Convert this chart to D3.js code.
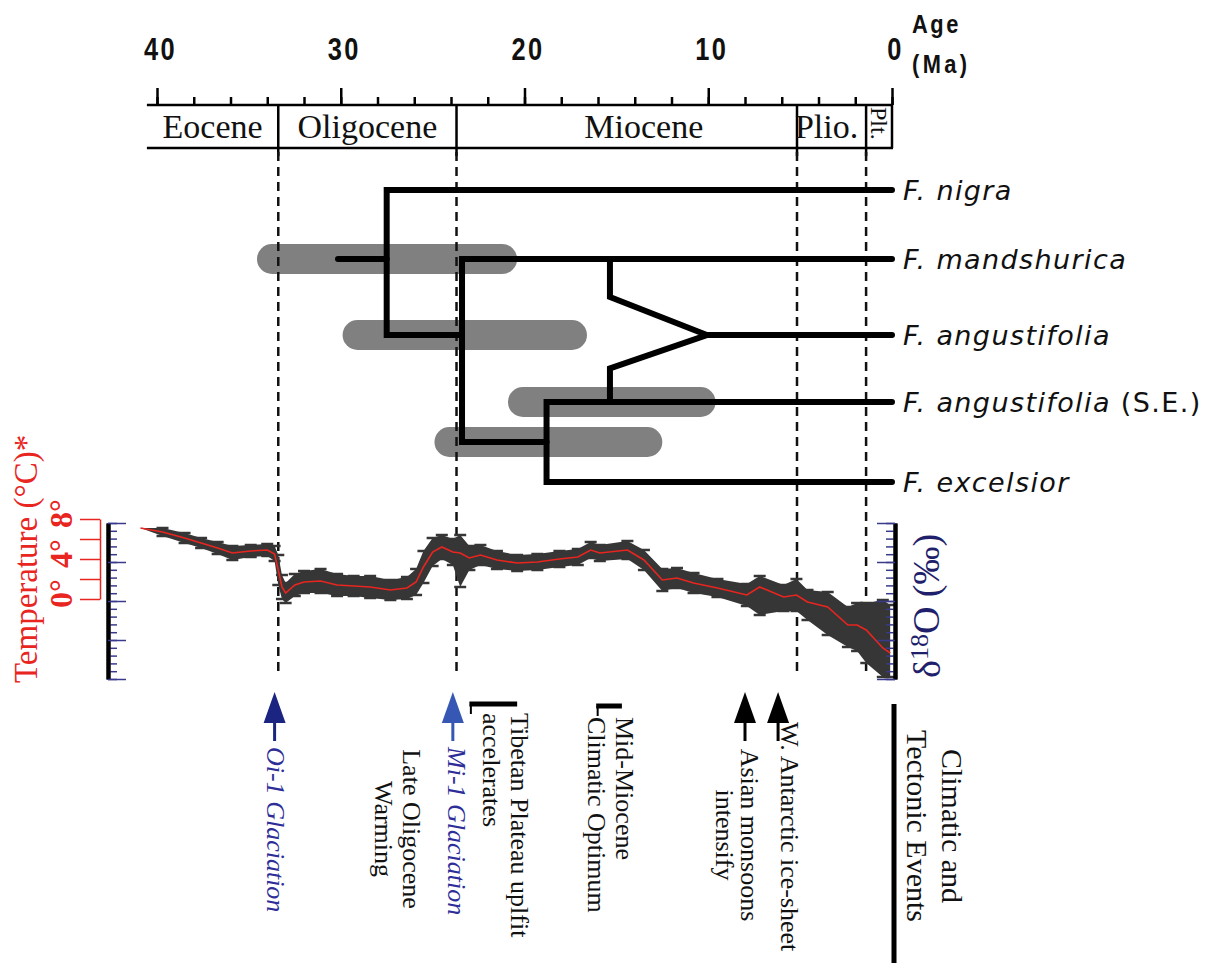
<!DOCTYPE html>
<html>
<head>
<meta charset="utf-8">
<script src="https://cdn.jsdelivr.net/npm/d3@7"></script>
<style>
  body { margin: 0; background: #fff; }
</style>
</head>
<body>
<svg id="chart"></svg>
<script>
// ---- data ----
const ageTicks = [40, 30, 20, 10, 0];
const minorAgeTicks = d3.range(0, 41, 2);
const epochs = ["Eocene", "Oligocene", "Miocene", "Plio.", "Plt."];
const epochStart = [40.55, 33.4, 23.7, 5.17, 1.41];
const epochEnd = [33.4, 23.7, 5.17, 1.41, 0];

const species = ["F. nigra", "F. mandshurica", "F. angustifolia", "F. angustifolia", "F. excelsior"];
const speciesNote = ["", "", "", " (S.E.)", ""];

// node ages (Ma)
const stemAge = 30.15;
const rootAge = 27.5;
const nodeAAge = 23.4;
const nodeBAge = 18.8;
const hybridAge = 15.35;
const hybridJoinAge = 10.07;

// node age intervals (grey bars)
const ciMax = [34.56, 29.9, 20.9, 24.9];
const ciMin = [20.4, 16.6, 9.6, 12.5];
const ciRow = [1, 2, 3, 3.5];

// temperature record (deg C): smoothed curve and scatter envelope
const curveAge = [40.9, 39.7, 38.5, 37.6, 36.7, 35.9, 34.9, 34.0, 33.6, 33.4, 33.2, 33.0,
  32.5, 32.0, 31.1, 30.2, 29.3, 28.4, 27.3, 26.4, 25.9, 25.5, 25.0, 24.5, 23.9, 23.5,
  23.0, 22.4, 21.5, 20.4, 19.3, 18.1, 17.1, 16.4, 15.9, 14.4, 13.5, 12.5, 11.7, 10.8,
  9.5, 7.9, 7.2, 5.9, 5.2, 4.6, 3.5, 2.4, 1.9, 1.4, 0.5, 0.1];
const curveTemp = [7.1, 6.7, 6.1, 5.6, 5.1, 4.6, 4.8, 4.9, 4.5, 2.9, 1.2, 0.6,
  1.4, 1.7, 1.8, 1.4, 1.3, 1.2, 0.9, 1.1, 1.7, 3.2, 4.7, 5.2, 4.7, 4.6,
  4.1, 4.4, 3.9, 3.6, 3.7, 4.0, 4.2, 4.9, 4.6, 4.9, 3.9, 1.9, 2.1, 1.6,
  1.1, 0.4, 1.2, 0.2, 0.4, -0.3, -0.8, -2.6, -2.6, -3.1, -4.9, -5.4];
const cloudHigh = [7.1, 7.1, 6.6, 6.1, 5.7, 5.3, 5.4, 5.5, 5.3, 4.4, 2.4, 1.6,
  2.5, 2.8, 3.0, 2.5, 2.3, 2.3, 1.9, 2.2, 3.0, 4.8, 6.1, 6.4, 6.0, 6.4,
  5.3, 5.4, 4.8, 4.4, 4.5, 4.8, 5.0, 5.7, 5.4, 5.8, 4.9, 3.0, 3.1, 2.6,
  2.0, 1.5, 2.3, 1.4, 2.0, 0.9, 0.7, -0.8, -0.4, -0.4, -0.1, -0.6];
const cloudLow = [7.1, 6.3, 5.6, 5.1, 4.5, 3.9, 4.2, 4.3, 3.8, 1.4, 0.0, -0.4,
  0.3, 0.6, 0.6, 0.3, 0.3, 0.1, -0.1, 0.0, 0.4, 1.6, 3.3, 4.0, 3.4, 1.2,
  2.9, 3.4, 3.0, 2.8, 2.9, 3.2, 3.4, 4.1, 3.8, 4.0, 2.9, 0.8, 1.1, 0.6,
  0.2, -0.7, -1.6, -1.2, -1.2, -2.1, -3.6, -4.8, -5.2, -6.4, -7.8, -7.8];

const tempTicks = [0, 2, 4, 6, 8];
const tempLabels = [0, 4, 8];
const d18Major = [0, 1, 2, 3, 4];
const d18Minor = d3.range(0, 4.01, 0.2);

// climatic and tectonic events (Ma)
const oiAge = 33.6;
const miAge = 23.9;
const warmingAge = 26.9;
const tibetRange = [23.0, 20.4];
const mmcoRange = [16.1, 14.7];
const monsoonAge = 8.0;
const antarcticAge = 6.2;

// ---- drawing ----
const W = 1218, H = 963;
const red = "#e8251f";
const navy = "#1f1f6b";
const serif = "'Liberation Serif', 'Times New Roman', serif";
const sansBold = "'Liberation Sans', Arial, sans-serif";
const sans = "'DejaVu Sans', Verdana, sans-serif";

const svg = d3.select("#chart").attr("width", W).attr("height", H);
svg.append("rect").attr("width", W).attr("height", H).attr("fill", "#fff");

const x = d3.scaleLinear().domain([40, 0]).range([157, 892]);
const row = d3.scaleLinear().domain([0, 1, 2, 3, 4]).range([190, 259, 335, 402, 482]);
const temp = d3.scaleLinear().domain([0, 8]).range([599, 519]);
const d18 = d3.scaleLinear().domain([0, 4]).range([523, 679]);

function vLabel(parent, cx, y, lines, gap, angle, anchor) {
  const g = parent.append("g");
  lines.forEach((s, i) => {
    g.append("text")
      .attr("transform", `translate(${cx - i * gap},${y}) rotate(${angle})`)
      .attr("dy", "0.33em")
      .attr("text-anchor", anchor)
      .text(s);
  });
  return g;
}

// top age axis
const minorAxis = svg.append("g").attr("transform", "translate(0,105)")
  .call(d3.axisTop(x).tickValues(minorAgeTicks).tickSize(8).tickSizeOuter(0).tickFormat(""));
const majorAxis = svg.append("g").attr("transform", "translate(0,105)")
  .call(d3.axisTop(x).tickValues(ageTicks).tickSize(17).tickSizeOuter(0).tickPadding(28));
[minorAxis, majorAxis].forEach(g => {
  g.select(".domain").remove();
  g.selectAll("line").attr("stroke", "#000").attr("stroke-width", 2.5);
});
majorAxis.selectAll("text")
  .attr("font-family", sansBold)
  .attr("font-weight", "bold")
  .attr("font-size", 31)
  .attr("letter-spacing", 3)
  .attr("transform", "translate(3,0) scale(0.82,1)")
  .attr("fill", "#111");

// narrow bold title, squeezed horizontally
const ageTitle = svg.append("g")
  .attr("transform", "translate(912,0) scale(0.84,1)")
  .attr("font-family", sansBold)
  .attr("font-weight", "bold")
  .attr("font-size", 26)
  .attr("fill", "#111");
ageTitle.append("text").attr("y", 33).attr("letter-spacing", 3).text("Age");
ageTitle.append("text").attr("y", 73).attr("letter-spacing", 4).text("(Ma)");

// epoch band
const band = svg.append("g").attr("stroke", "#000").attr("stroke-width", 2.5);
[105, 148].forEach(yy => {
  band.append("line").attr("x1", x(epochStart[0])).attr("x2", x(0) + 1).attr("y1", yy).attr("y2", yy);
});
band.append("line").attr("x1", x(0)).attr("x2", x(0)).attr("y1", 105).attr("y2", 148);
band.selectAll(".bound")
  .data(epochEnd.slice(0, 4))
  .join("line")
  .attr("x1", d => x(d)).attr("x2", d => x(d))
  .attr("y1", 105).attr("y2", 156);

const epochNudge = [0, 0, 17, -5, 0];
const epochText = svg.append("g").attr("font-family", serif).attr("fill", "#111");
epochs.forEach((name, i) => {
  const cx = (x(epochStart[i]) + x(epochEnd[i])) / 2 + epochNudge[i];
  if (name === "Plt.") {
    vLabel(epochText, cx, 107, [name], 0, 90, "start").attr("font-size", 24);
  } else {
    epochText.append("text")
      .attr("x", cx).attr("y", 138)
      .attr("text-anchor", "middle")
      .attr("font-size", 34)
      .text(name);
  }
});

// grey node-age bars
svg.append("g").selectAll("rect")
  .data(ciRow)
  .join("rect")
  .attr("x", (d, i) => x(ciMax[i]))
  .attr("width", (d, i) => x(ciMin[i]) - x(ciMax[i]))
  .attr("y", d => row(d) - 15)
  .attr("height", 30)
  .attr("rx", 15)
  .attr("fill", "#808080");

// dashed epoch boundaries
svg.append("g").selectAll("line")
  .data(epochEnd.slice(0, 4))
  .join("line")
  .attr("x1", d => x(d)).attr("x2", d => x(d))
  .attr("y1", 152).attr("y2", 676)
  .attr("stroke", "#111")
  .attr("stroke-width", 2.5)
  .attr("stroke-dasharray", "9,6");

// tree
const branches = [
  [[0, 0], [rootAge, 0], [rootAge, 2], [nodeAAge, 2]],
  [[stemAge, 1], [rootAge, 1]],
  [[0, 1], [nodeAAge, 1], [nodeAAge, 3.5], [nodeBAge, 3.5]],
  [[0, 3], [nodeBAge, 3], [nodeBAge, 4], [0, 4]],
  [[hybridAge, 1], [hybridAge, 1.5], [hybridJoinAge, 2], [hybridAge, 2.5], [hybridAge, 3]],
  [[hybridJoinAge, 2], [0, 2]],
];
const branchLine = d3.line().x(d => x(d[0])).y(d => row(d[1]));
svg.append("g").selectAll("path")
  .data(branches)
  .join("path")
  .attr("d", branchLine)
  .attr("fill", "none")
  .attr("stroke", "#000")
  .attr("stroke-width", 6)
  .attr("stroke-linejoin", "miter")
  .attr("stroke-linecap", "round");

const tipText = svg.append("g")
  .attr("font-family", sans)
  .attr("font-size", 27)
  .attr("letter-spacing", 1.4)
  .attr("fill", "#111");
species.forEach((name, i) => {
  const t = tipText.append("text").attr("x", 903).attr("y", row(i)).attr("dy", "0.36em");
  t.append("tspan").attr("font-style", "italic").text(name);
  if (speciesNote[i]) t.append("tspan").text(speciesNote[i]);
});

// temperature / d18O record
const curve = curveAge.map((a, i) => ({ age: a, t: curveTemp[i], hi: cloudHigh[i], lo: cloudLow[i] }));
const cloud = svg.append("g").attr("fill", "#363636").attr("stroke", "#363636");
cloud.append("path")
  .datum(curve)
  .attr("stroke", "none")
  .attr("d", d3.area()
    .x(d => x(d.age))
    .y0(d => temp(d.lo))
    .y1(d => temp(d.hi)));
// error-bar caps along the envelope
cloud.selectAll(".cap")
  .data(curve.slice(1).flatMap(d => [{ age: d.age, v: d.hi }, { age: d.age, v: d.lo }]))
  .join("line")
  .attr("x1", d => x(d.age) - 6).attr("x2", d => x(d.age) + 6)
  .attr("y1", d => temp(d.v)).attr("y2", d => temp(d.v))
  .attr("stroke-width", 2.5);
svg.append("path")
  .datum(curve)
  .attr("d", d3.line().x(d => x(d.age)).y(d => temp(d.t)))
  .attr("fill", "none")
  .attr("stroke", red)
  .attr("stroke-width", 1.6);

// temperature axis
const redAxis = svg.append("g").attr("transform", "translate(100,0)")
  .call(d3.axisLeft(temp).tickValues(tempTicks).tickSize(20).tickSizeOuter(0).tickFormat(""));
redAxis.selectAll("line, path").attr("stroke", red).attr("stroke-width", 1.5);

const tempText = svg.append("g")
  .attr("font-family", serif)
  .attr("font-weight", "bold")
  .attr("font-size", 32)
  .attr("fill", red);
tempLabels.forEach(v => vLabel(tempText, 61, temp(v) + 9, [v + "°"], 0, -90, "start"));

vLabel(svg, 26, 683, ["Temperature (°C)*"], 0, -90, "start")
  .attr("font-family", serif)
  .attr("font-size", 33)
  .attr("fill", red);

// d18O axes
function d18Axis(xPos, axisFn) {
  const g = svg.append("g").attr("transform", `translate(${xPos},0)`);
  g.append("g").call(axisFn(d18).tickValues(d18Minor).tickSize(9).tickSizeOuter(0).tickFormat(""));
  g.append("g").call(axisFn(d18).tickValues(d18Major).tickSize(18).tickSizeOuter(0).tickFormat(""));
  g.selectAll(".tick line").attr("stroke", "#3a3a8c").attr("stroke-width", 1.5);
  g.selectAll(".domain").attr("stroke", "#000").attr("stroke-width", 4);
}
d18Axis(108, d3.axisRight);
d18Axis(895, d3.axisLeft);

const d18Label = svg.append("text")
  .attr("transform", "translate(927,678) rotate(-90)")
  .attr("dy", "0.33em")
  .attr("font-family", serif)
  .attr("font-size", 38)
  .attr("fill", navy);
d18Label.append("tspan").text("δ");
d18Label.append("tspan").attr("font-size", 26).attr("dy", "-0.45em").text("18");
d18Label.append("tspan").attr("dy", "0.3em").text("O (‰)");

// climatic and tectonic events
const events = svg.append("g").attr("font-family", serif).attr("font-size", 26).attr("fill", "#111");

function upArrow(age, color) {
  const cx = x(age);
  events.append("path")
    .attr("d", `M${cx},692 L${cx - 11},723 L${cx + 11},723 Z`)
    .attr("fill", color);
  events.append("line")
    .attr("x1", cx).attr("x2", cx).attr("y1", 720).attr("y2", 741)
    .attr("stroke", color).attr("stroke-width", 3);
}
function rangeBar(range, yy) {
  events.append("line")
    .attr("x1", x(range[0])).attr("x2", x(range[1]))
    .attr("y1", yy).attr("y2", yy)
    .attr("stroke", "#000").attr("stroke-width", 5);
  events.append("line")
    .attr("x1", x(range[0]) + 1.5).attr("x2", x(range[0]) + 1.5)
    .attr("y1", yy).attr("y2", yy + 10)
    .attr("stroke", "#000").attr("stroke-width", 2);
}

upArrow(oiAge, "#1b2480");
vLabel(events, x(oiAge) + 1, 747, ["Oi-1 Glaciation"], 0, 90, "start")
  .attr("font-style", "italic").attr("fill", "#2e2e98");

vLabel(events, x(warmingAge) + 14, 829, ["Late Oligocene", "Warming"], 28, 90, "middle");

upArrow(miAge, "#3657b4");
vLabel(events, x(miAge) + 4, 747, ["Mi-1 Glaciation"], 0, 90, "start")
  .attr("font-style", "italic").attr("fill", "#2e2e98");

rangeBar(tibetRange, 704);
vLabel(events, x(tibetRange[0]) + 50, 713, ["Tibetan Plateau uplfit", "accelerates"], 28, 90, "start");

rangeBar(mmcoRange, 706);
vLabel(events, x(mmcoRange[0]) + 28, 717, ["Mid-Miocene", "Climatic Optimum"], 28, 90, "start");

upArrow(monsoonAge, "#000");
vLabel(events, x(monsoonAge) + 5, 835, ["Asian monsoons", "intensify"], 25, 90, "middle");

upArrow(antarcticAge, "#000");
vLabel(events, x(antarcticAge) + 12, 722, ["W. Antarctic ice-sheet"], 0, 90, "start");

events.append("line")
  .attr("x1", 894).attr("x2", 894).attr("y1", 704).attr("y2", H)
  .attr("stroke", "#000").attr("stroke-width", 5);
vLabel(events, 952, 826, ["Climatic and", "Tectonic Events"], 35, 90, "middle")
  .attr("font-size", 30);
</script>
</body>
</html>
